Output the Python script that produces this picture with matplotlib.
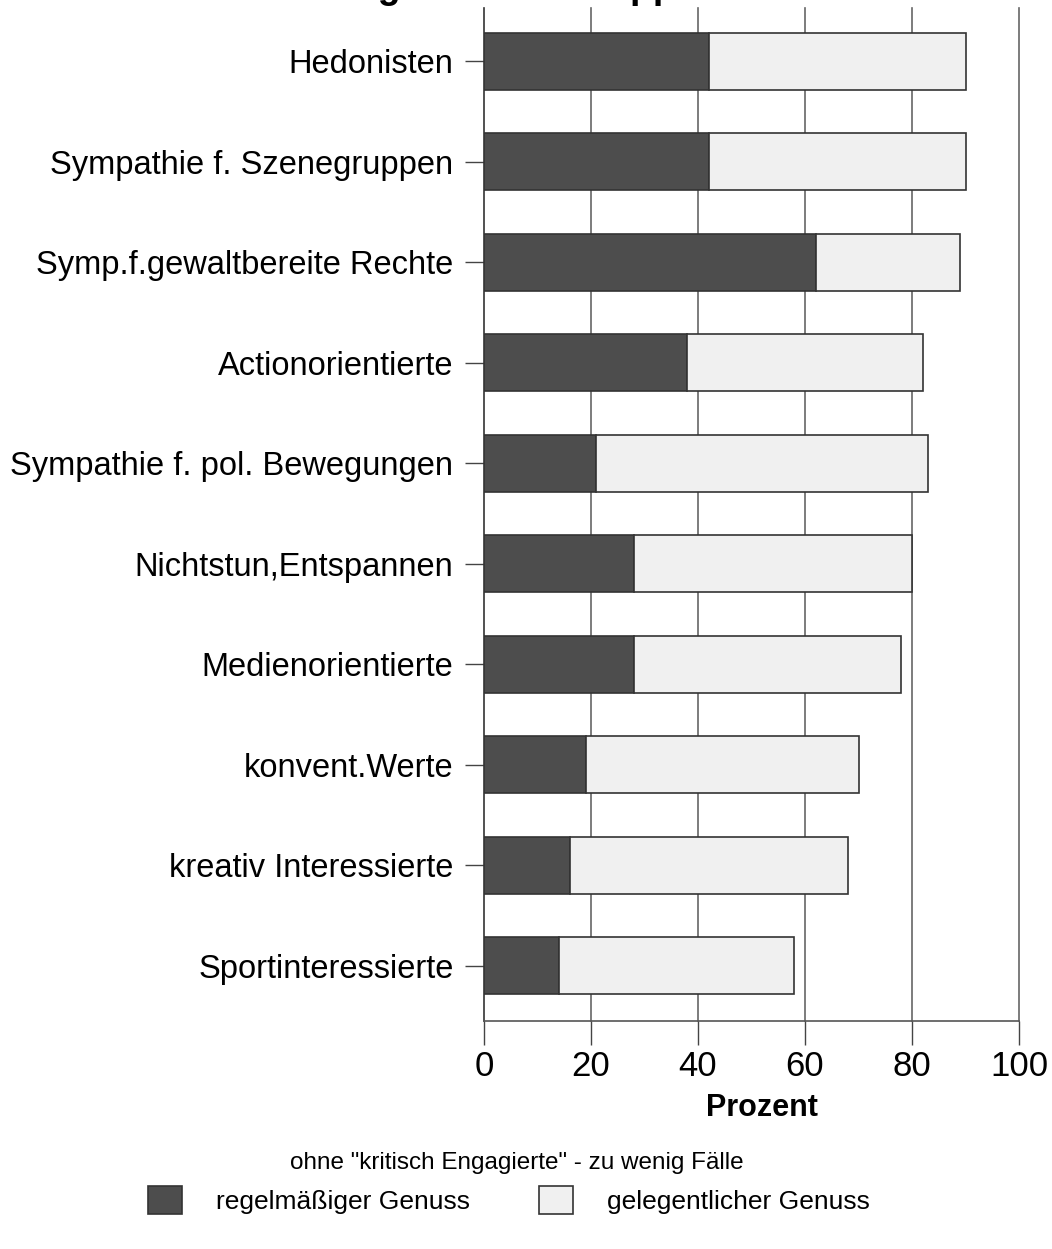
import numpy as np
import matplotlib
matplotlib.use('Agg')
import matplotlib.pyplot as plt

plt.rcParams['font.family'] = ['Liberation Sans', 'DejaVu Sans']

# data (top to bottom)
gruppen = ['Hedonisten', 'Sympathie f. Szenegruppen', 'Symp.f.gewaltbereite Rechte',
           'Actionorientierte', 'Sympathie f. pol. Bewegungen', 'Nichtstun,Entspannen',
           'Medienorientierte', 'konvent.Werte', 'kreativ Interessierte', 'Sportinteressierte']
regelmaessig = [42, 42, 62, 38, 21, 28, 28, 19, 16, 14]
gelegentlich = [48, 48, 27, 44, 62, 52, 50, 51, 52, 44]
x_ticks = [0, 20, 40, 60, 80, 100]

W, H = 1052, 1249
fig = plt.figure(figsize=(W / 100, H / 100), dpi=100)
ax = fig.add_axes([484 / W, 1 - 1021 / H, (1019 - 484) / W, (1021 - 8) / H])

y = np.arange(len(gruppen))
ax.barh(y, regelmaessig, height=0.57, color='#4d4d4d', edgecolor='#333333',
        linewidth=1.2, label='regelmäßiger Genuss', zorder=3)
ax.barh(y, gelegentlich, left=regelmaessig, height=0.57, color='#f0f0f0',
        edgecolor='#333333', linewidth=1.2, label='gelegentlicher Genuss', zorder=3)

ax.set_xlim(0, 100)
ax.set_ylim(len(gruppen) - 0.45, -0.53)
ax.set_xticks(x_ticks)
ax.set_xticklabels([str(t) for t in x_ticks], fontsize=25)
ax.set_yticks(y)
ax.set_yticklabels(gruppen, fontsize=23.5)
ax.tick_params(axis='x', direction='out', length=17, width=1, pad=4, color='#444444')
ax.tick_params(axis='y', direction='out', length=14, width=1, pad=8, color='#444444')

for t in x_ticks[1:]:
    ax.axvline(t, color='#666666', linewidth=1.2, zorder=1, clip_on=False)

ax.spines['top'].set_visible(False)
ax.spines['right'].set_visible(False)
ax.spines['left'].set_color('#333333')
ax.spines['bottom'].set_color('#555555')
ax.spines['left'].set_linewidth(1.2)
ax.spines['bottom'].set_linewidth(1.2)

# title, mostly cut off at the top edge
fig.text(240 / W, 1 + 2 / H, 'Alkoholgenuss in Gruppen', fontsize=27,
         fontweight='bold', ha='left', va='baseline')

fig.text(762 / W, 1 - 1108 / H, 'Prozent', fontsize=22, fontweight='bold',
         ha='center', va='center')
fig.text(517 / W, 1 - 1163 / H, 'ohne "kritisch Engagierte" - zu wenig Fälle',
         fontsize=17.5, ha='center', va='center')

ax.legend(loc='center', bbox_to_anchor=(509 / W, 1 - 1200 / H),
          bbox_transform=fig.transFigure, ncol=2, frameon=False, fontsize=19,
          handlelength=1.3, handleheight=1.3, handletextpad=1.3,
          columnspacing=2.6, borderpad=0, borderaxespad=0)

fig.savefig('out.png', dpi=100)
